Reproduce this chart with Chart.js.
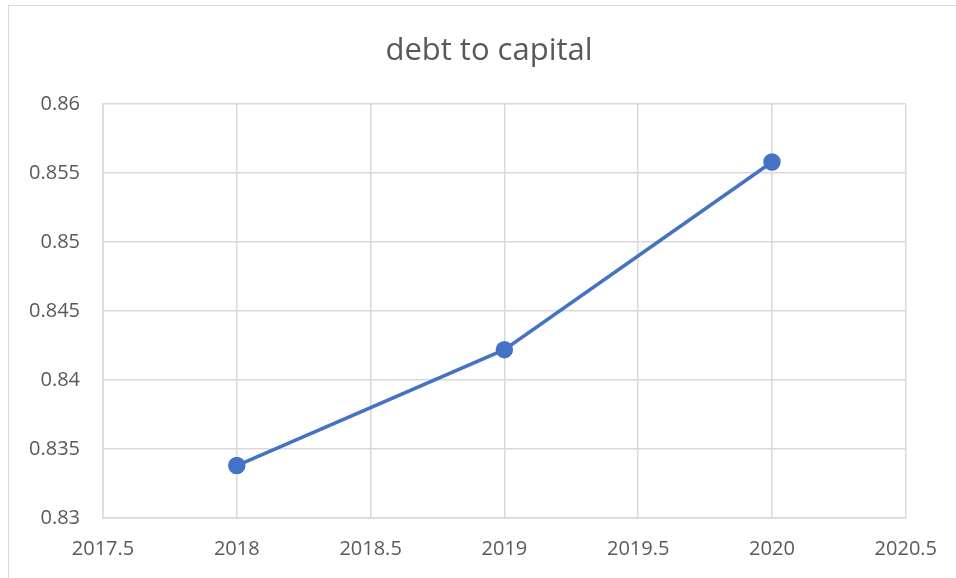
<!DOCTYPE html>
<html>
<head>
<meta charset="utf-8">
<script src="https://cdn.jsdelivr.net/npm/chart.js@4"></script>
<style>
  body { margin: 0; background: #fff; }
  #frame {
    position: absolute; left: 8px; top: 5px; width: 980px; height: 600px;
    border: 1px solid #d9d9d9; pointer-events: none;
  }
  #Grafico { position: absolute; left: 0; top: 0; }
</style>
</head>
<body>
<canvas id="Grafico" width="956" height="578"></canvas>
<div id="frame"></div>
<script>
// dados do gráfico
var anos = [2018, 2019, 2020];
var debtToCapital = [0.8338, 0.8422, 0.8558];
var xMin = 2017.5, xMax = 2020.5, xStep = 0.5;
var yMin = 0.83, yMax = 0.86, yStep = 0.005;
var titulo = 'debt to capital';

var corTexto = '#595959';
var corGrade = '#d9d9d9';
var fonte = "'Open Sans', 'Liberation Sans', sans-serif";

// título desenhado à mão para ficar centralizado no quadro
var tituloPlugin = {
    id: 'tituloPlugin',
    afterDraw: function (chart) {
        var ctx = chart.ctx;
        ctx.save();
        ctx.fillStyle = corTexto;
        ctx.font = '31px ' + fonte;
        ctx.textAlign = 'center';
        ctx.textBaseline = 'alphabetic';
        ctx.fillText(titulo, 489, 60);
        ctx.restore();
    }
};

var ctx = document.getElementById('Grafico').getContext('2d');
var meuGrafico = new Chart(ctx, {
    type: 'scatter',
    data: {
        datasets: [{
            type: 'line',
            label: titulo,
            data: anos.map((a, i) => ({ x: a, y: debtToCapital[i] })),
            borderColor: '#4472C4',
            backgroundColor: '#4472C4',
            borderWidth: 3.5,
            pointRadius: 7,
            pointHoverRadius: 7,
            fill: false,
            tension: 0
        }]
    },
    options: {
        responsive: false,
        animation: false,
        layout: { padding: { top: 104, right: 50, left: 0, bottom: 0 } },
        plugins: {
            legend: { display: false },
            title: { display: false },
            tooltip: { enabled: false }
        },
        scales: {
            x: {
                type: 'linear',
                min: xMin,
                max: xMax,
                afterFit: function (s) { s.height = 60; },
                grid: { color: corGrade, lineWidth: 1.5, drawTicks: false },
                border: { color: corGrade, width: 1.5 },
                ticks: {
                    stepSize: xStep,
                    padding: 19,
                    color: corTexto,
                    font: { family: fonte, size: 20 },
                    callback: v => String(parseFloat(v.toFixed(1)))
                }
            },
            y: {
                min: yMin,
                max: yMax,
                afterFit: function (s) { s.width = 103; },
                grid: { color: corGrade, lineWidth: 1.5, drawTicks: false },
                border: { color: corGrade, width: 1.5 },
                ticks: {
                    stepSize: yStep,
                    padding: 23,
                    color: corTexto,
                    font: { family: fonte, size: 20 },
                    callback: v => String(parseFloat(v.toFixed(3)))
                }
            }
        }
    },
    plugins: [tituloPlugin]
});
</script>
</body>
</html>
